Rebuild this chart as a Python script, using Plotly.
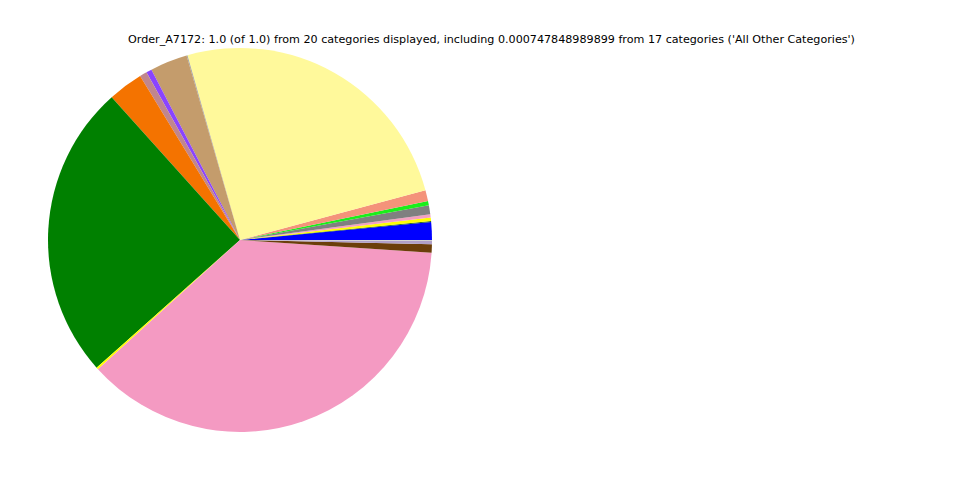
import plotly.graph_objects as go

labels = ["Cat 01", "Cat 02", "Cat 03", "Cat 04", "Cat 05", "Cat 06", "Cat 07",
          "Cat 08", "All Other Categories", "Cat 09", "Cat 10", "Cat 11", "Cat 12",
          "Cat 13", "Cat 14", "Cat 15", "Cat 16", "Cat 17", "Cat 18"]
values = [0.0150, 0.0008, 0.0028, 0.0028, 0.0075, 0.0036, 0.0092,
          0.2524, 0.00075, 0.0314, 0.0047, 0.0061, 0.0294,
          0.2492, 0.0017, 0.3720, 0.0069, 0.0028, 0.0008]
colors = ["#0000ff", "#1f5f1f", "#ffff00", "#f4a0c0", "#808080", "#1aee1a", "#f4937a",
          "#fff99b", "#a0a0a0", "#c49c6c", "#8a44ff", "#c0868e", "#f47300",
          "#008000", "#ffff00", "#f49ac2", "#6b3e0a", "#b0a0c8", "#d0d0d0"]

title = ("Order_A7172: 1.0 (of 1.0) from 20 categories displayed, including "
         "0.000747848989899 from 17 categories ('All Other Categories')")

# plotly places the first counterclockwise slice ending at `rotation`;
# shift so the first slice starts at 3 o'clock like matplotlib's default.
first_share = values[0] / sum(values) * 360
start_rotation = 90 - first_share

fig = go.Figure(go.Pie(
    labels=labels, values=values, sort=False,
    direction="counterclockwise", rotation=start_rotation,
    marker=dict(colors=colors, line=dict(width=0)),
    textinfo="none", hoverinfo="label+value",
    domain=dict(x=[48/960, 432/960], y=[48/480, 432/480]),
    showlegend=False,
))

fig.update_layout(
    width=960, height=480,
    margin=dict(l=0, r=0, t=0, b=0),
    paper_bgcolor="white", plot_bgcolor="white",
    annotations=[dict(text=title, x=492/960, y=1 - 39/480, xref="paper", yref="paper",
                      xanchor="center", yanchor="middle", showarrow=False,
                      font=dict(family="DejaVu Sans", size=11.15, color="black"))],
)

fig.write_html("out.html", config={"displayModeBar": False},
               post_script="document.body.style.margin='0';")
